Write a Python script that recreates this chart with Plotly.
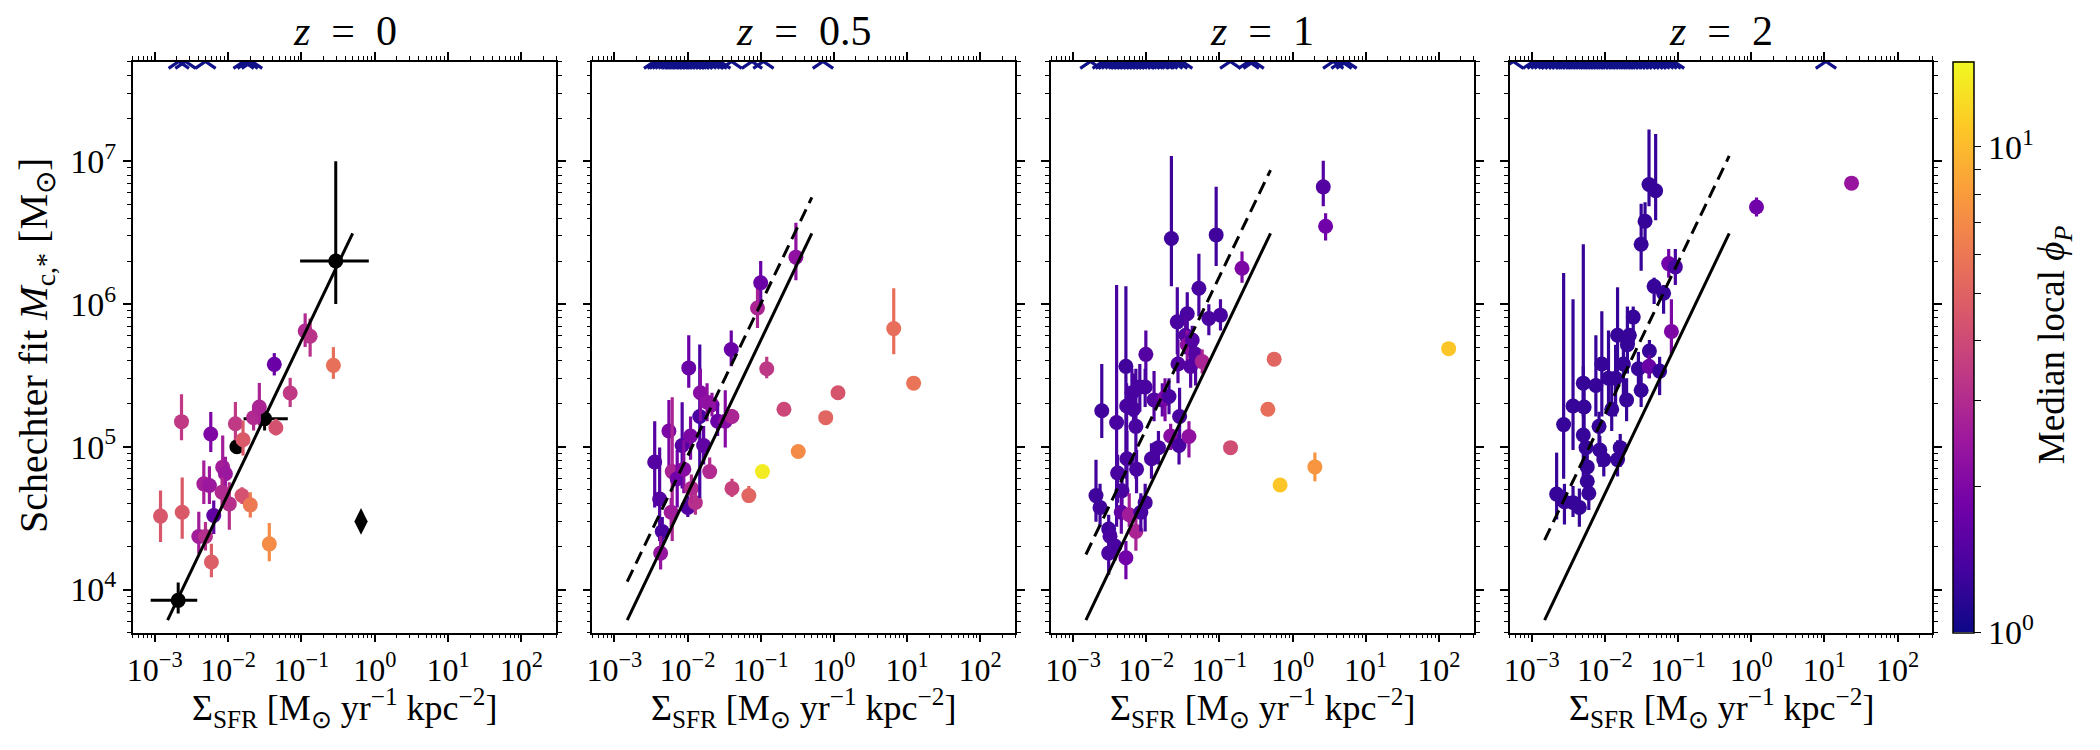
import math
import plotly.graph_objects as go
from plotly.colors import sample_colorscale

# ---------------- data ----------------
panel_titles = ["<i>z</i>\u2002=\u20020", "<i>z</i>\u2002=\u20020.5", "<i>z</i>\u2002=\u20021", "<i>z</i>\u2002=\u20022"]

# z = 0
sfr_z0 = [1.20e-3, 2.37e-3, 2.32e-3, 5.81e-3, 3.99e-3, 4.92e-3, 5.93e-3, 4.67e-3, 5.57e-3, 6.38e-3,
          8.45e-3, 9.2e-3, 8.28e-3, 0.0104, 0.0126, 0.016, 0.0155, 0.0201, 0.0223, 0.0267,
          0.0449, 0.0427, 0.0703, 0.273, 0.0365, 0.1125, 0.1315]
mc_z0 = [3.27e4, 3.48e4, 1.50e5, 1.23e5, 2.35e4, 2.35e4, 1.56e4, 5.5e4, 5.35e4, 3.3e4,
         7.2e4, 6.47e4, 4.81e4, 3.98e4, 1.45e5, 1.12e5, 4.56e4, 3.92e4, 1.6e5, 1.9e5,
         1.36e5, 3.78e5, 2.38e5, 3.72e5, 2.09e4, 6.47e5, 5.94e5]
mc_hi_z0 = [4.94e4, 6.1e4, 2.33e5, 1.75e5, 3.5e4, 2.97e4, 2.09e4, 8.0e4, 7.3e4, 4.2e4,
            1.2e5, 8.5e4, 6.1e4, 5.65e4, 2.06e5, 1.53e5, 5.2e4, 4.8e4, 1.95e5, 2.8e5,
            1.57e5, 4.53e5, 3.04e5, 4.99e5, 2.92e4, 8.6e5, 7.9e5]
mc_lo_z0 = [2.15e4, 2.27e4, 1.11e5, 9.2e4, 1.78e4, 1.88e4, 1.22e4, 3.98e4, 3.98e4, 2.45e4,
            4.4e4, 4.9e4, 3.8e4, 2.62e4, 1.11e5, 8.7e4, 3.98e4, 3.2e4, 1.3e5, 1.41e5,
            1.2e5, 3.16e5, 1.9e5, 2.99e5, 1.58e4, 5.0e5, 4.28e5]
phi_z0 = [4.5, 4.6, 3.4, 2.0, 2.6, 3.1, 4.8, 2.65, 2.45, 1.63,
          2.6, 2.45, 2.95, 3.1, 3.4, 4.6, 4.3, 6.1, 2.95, 2.8,
          4.3, 1.72, 3.4, 5.6, 7.0, 2.95, 3.2]

# z = 0 reference (black) points
ref_sfr = [2.09e-3, 0.0315, 0.294]
ref_sfr_lo = [8.8e-4, 0.0163, 0.096]
ref_sfr_hi = [3.8e-3, 0.0653, 0.83]
ref_mc = [8.4e3, 1.57e5, 2.0e6]
ref_mc_lo = [6.8e3, 1.3e5, 1.0e6]
ref_mc_hi = [1.12e4, 1.9e5, 1.0e7]
ref_extra_sfr = [0.0132]
ref_extra_mc = [1.0e5]
diamond_sfr = [0.65]
diamond_mc = [3.0e4]

# z = 0.5
sfr_z05 = [3.56e-3, 4.16e-3, 4.52e-3, 4.29e-3, 5.57e-3, 6.18e-3, 5.98e-3, 7.23e-3, 8.45e-3, 8.9e-3,
           0.0104, 0.011, 0.0101, 0.0128, 0.0113, 0.0147, 0.015, 0.0166, 0.0185, 0.0201,
           0.0216, 0.0258, 0.0328, 0.0405, 0.0396, 0.0405, 0.0689, 0.0904, 0.1, 0.1057,
           0.121, 0.208, 0.326, 0.303, 0.774, 1.14, 6.58, 12.3]
mc_z05 = [7.82e4, 4.31e4, 2.55e4, 1.8e4, 1.29e5, 6.7e4, 3.48e4, 5.97e4, 1.02e5, 6.97e4,
          3.57e5, 1.19e5, 3.76e4, 4.06e4, 5.11e4, 1.63e5, 2.39e5, 1.02e5, 2.05e5, 6.7e4,
          1.97e5, 1.51e5, 1.51e5, 1.63e5, 4.8e5, 5.11e4, 4.55e4, 9.38e5, 1.41e6, 6.7e4,
          3.52e5, 1.83e5, 9.27e4, 2.13e6, 1.6e5, 2.39e5, 6.73e5, 2.79e5]
mc_hi_z05 = [1.51e5, 9.9e4, 3.22e4, 2.37e4, 2.13e5, 2.22e5, 4.38e4, 9.5e4, 2.05e5, 1.11e5,
             6.04e5, 1.63e5, 4.55e4, 4.73e4, 6.4e4, 5.2e5, 3.52e5, 1.4e5, 2.79e5, 8.4e4,
             2.39e5, 2.05e5, 2.49e5, 1.83e5, 6.53e5, 5.97e4, 5.31e4, 1.31e6, 2.0e6, 6.7e4,
             4.27e5, 1.83e5, 9.27e4, 3.71e6, 1.6e5, 2.39e5, 1.29e6, 2.79e5]
mc_lo_z05 = [3.76e4, 2.19e4, 2.02e4, 1.38e4, 6.4e4, 2.19e4, 2.75e4, 3.76e4, 5.1e4, 4.73e4,
             2.59e5, 8.1e4, 3.22e4, 3.34e4, 4.06e4, 4.38e4, 1.51e5, 7.5e4, 1.51e5, 5.97e4,
             1.63e5, 1.19e5, 9.9e4, 1.45e5, 3.66e5, 4.45e4, 4.06e4, 6.79e5, 9.6e5, 6.7e4,
             3.02e5, 1.83e5, 9.27e4, 1.47e6, 1.6e5, 2.39e5, 4.44e5, 2.79e5]
phi_z05 = [1.5, 1.5, 1.38, 2.38, 1.97, 2.8, 2.58, 1.81, 1.5, 2.13,
           1.72, 1.97, 1.5, 3.12, 2.95, 1.38, 2.13, 1.63, 2.25, 2.95,
           2.25, 1.72, 2.13, 2.8, 1.72, 3.67, 5.1, 2.8, 1.72, 13.8,
           3.38, 3.9, 7.0, 2.25, 5.1, 4.4, 5.5, 5.8]

# z = 1
sfr_z1 = [2.06e-3, 2.34e-3, 2.47e-3, 3.07e-3, 3.2e-3, 3.07e-3, 3.74e-3, 3.94e-3, 4.07e-3, 4.67e-3,
          4.57e-3, 5.28e-3, 5.4e-3, 5.46e-3, 5.28e-3, 5.86e-3, 6.38e-3, 6.71e-3, 7.23e-3, 7.38e-3,
          7.23e-3, 8.18e-3, 8.45e-3, 9.89e-3, 9.68e-3, 9.68e-3, 0.0118, 0.0128, 0.0147, 0.0166,
          0.0181, 0.0205, 0.0221, 0.0216, 0.0266, 0.0272, 0.0281, 0.0286, 0.0364, 0.0346,
          0.0364, 0.0384, 0.0405, 0.0426, 0.0473, 0.0525, 0.0582, 0.0718, 0.0904, 0.1035,
          0.204, 0.142, 0.46, 0.561, 0.676, 2.02, 2.63, 2.83, 136.0]
mc_z1 = [4.55e4, 3.76e4, 1.79e5, 2.65e4, 2.36e4, 1.8e4, 2.02e4, 1.48e5, 6.55e4, 4.92e4,
         3.48e4, 3.66e5, 1.93e5, 8.25e4, 1.67e4, 3.34e4, 2.39e5, 1.83e5, 1.39e5, 6.97e4,
         2.55e4, 2.62e5, 3.48e4, 4.44e5, 2.62e5, 4.06e4, 8.25e4, 2.13e5, 9.86e4, 2.13e5,
         2.22e5, 2.25e5, 2.88e6, 1.19e5, 7.5e5, 3.8e5, 1.02e5, 1.63e5, 8.55e5, 6.04e5,
         5.18e5, 1.18e5, 3.66e5, 5.6e5, 4.44e5, 1.29e6, 3.95e5, 7.92e5, 3.05e6, 8.36e5,
         1.78e6, 9.86e4, 1.83e5, 4.11e5, 5.4e4, 7.23e4, 6.62e6, 3.51e6, 4.87e5]
mc_hi_z1 = [8.1e4, 5.5e4, 3.8e5, 3.34e4, 2.98e4, 2.36e4, 2.55e4, 1.36e6, 8.8e4, 6.44e4,
            4.38e4, 1.33e6, 2.79e5, 1.29e5, 2.19e4, 4.73e4, 3.52e5, 3.26e5, 3.52e5, 9.5e4,
            3.22e4, 3.8e5, 4.73e4, 6.53e5, 3.52e5, 5.5e4, 1.06e5, 3.39e5, 1.29e5, 2.79e5,
            3.02e5, 3.02e5, 1.09e7, 1.45e5, 1.31e6, 5.6e5, 1.4e5, 2.59e5, 1.21e6, 8.2e5,
            6.53e5, 1.51e5, 6.04e5, 7.05e5, 6.04e5, 2.25e6, 4.8e5, 9.98e5, 6.62e6, 1.08e6,
            2.33e6, 9.86e4, 1.83e5, 4.11e5, 5.4e4, 9.1e4, 1.01e7, 4.33e6, 4.87e5]
mc_lo_z1 = [2.98e4, 2.75e4, 1.15e5, 2.1e4, 1.73e4, 1.27e4, 1.6e4, 2.75e4, 4.06e4, 3.76e4,
            2.46e4, 5.97e4, 1.29e5, 5.1e4, 1.18e4, 2.75e4, 1.63e5, 1.29e5, 5.97e4, 4.73e4,
            1.87e4, 1.76e5, 2.55e4, 2.79e5, 1.9e5, 2.55e4, 5.97e4, 1.51e5, 7.5e4, 1.63e5,
            1.51e5, 1.69e5, 1.33e6, 9.5e4, 4.44e5, 2.79e5, 7.5e4, 1.02e5, 6.04e5, 4.44e5,
            3.8e5, 8.4e4, 2.59e5, 3.8e5, 2.69e5, 8.2e5, 3.26e5, 6.04e5, 1.85e6, 6.53e5,
            1.41e6, 9.86e4, 1.83e5, 4.11e5, 5.4e4, 5.74e4, 4.85e6, 2.79e6, 4.87e5]
phi_z1 = [1.31, 1.31, 1.31, 1.31, 1.38, 1.38, 1.38, 1.38, 1.38, 1.38,
          1.63, 1.31, 1.38, 1.38, 1.81, 2.58, 1.38, 1.38, 1.38, 1.38,
          2.8, 1.38, 1.38, 1.5, 1.38, 1.38, 1.38, 1.5, 1.38, 1.63,
          1.97, 1.38, 1.31, 2.13, 1.38, 1.5, 1.38, 1.38, 1.38, 1.5,
          2.25, 2.25, 1.5, 1.5, 1.5, 1.38, 2.8, 1.38, 1.31, 1.38,
          1.97, 4.1, 5.5, 5.1, 10.8, 7.6, 1.5, 1.81, 10.8]

# z = 2
sfr_z2 = [2.19e-3, 2.73e-3, 2.8e-3, 3.67e-3, 3.67e-3, 4.48e-3, 5.07e-3, 5.2e-3, 5.07e-3, 5.53e-3,
          5.74e-3, 5.74e-3, 6.03e-3, 7.53e-3, 8.32e-3, 8.53e-3, 9.66e-3, 9.08e-3, 0.0112, 0.0124,
          0.014, 0.0149, 0.0162, 0.0149, 0.0179, 0.0198, 0.0203, 0.0244, 0.0216, 0.0287,
          0.0313, 0.0313, 0.0354, 0.0401, 0.0494, 0.0406, 0.0401, 0.0471, 0.056, 0.0634,
          0.0745, 0.0918, 0.0811, 1.18, 23.5]
mc_z2 = [4.66e4, 1.43e5, 4.12e4, 1.93e5, 4.06e4, 3.76e4, 2.79e5, 1.9e5, 1.21e5, 9.86e4,
         7.23e4, 5.74e4, 4.73e4, 2.69e5, 1.39e5, 9.5e4, 8.13e4, 3.8e5, 3.02e5, 1.83e5,
         3.02e5, 8.13e4, 9.86e4, 6.04e5, 3.8e5, 2.13e5, 5.18e5, 8.1e5, 6.04e5, 3.52e5,
         2.49e5, 2.62e6, 3.8e6, 6.88e6, 6.22e6, 4.69e5, 3.66e5, 1.33e6, 3.39e5, 1.19e6,
         1.92e6, 1.82e6, 6.43e5, 4.78e6, 7.03e6]
mc_hi_z2 = [9.1e4, 1.65e6, 5.5e4, 1.08e6, 5.31e4, 5.1e4, 3.66e5, 2.79e5, 2.62e6, 1.29e5,
            9.5e4, 7.5e4, 6.2e4, 6.04e5, 1.76e5, 1.19e5, 1.02e5, 8.9e5, 6.53e5, 2.79e5,
            5.18e5, 1.11e5, 1.23e5, 1.31e6, 6.04e5, 3.02e5, 9.6e5, 9.6e5, 6.04e5, 4.62e5,
            3.26e5, 5.05e6, 5.17e6, 1.67e7, 1.55e7, 5.6e5, 4.4e5, 1.53e6, 4.27e5, 1.36e6,
            2.43e6, 2.43e6, 1.08e6, 5.58e6, 7.03e6]
mc_lo_z2 = [3.1e4, 5.97e4, 2.86e4, 9.5e4, 3.22e4, 2.75e4, 1.63e5, 1.29e5, 5.97e4, 7.5e4,
            5.5e4, 4.38e4, 3.61e4, 1.63e5, 1.02e5, 7.23e4, 6.2e4, 1.63e5, 1.9e5, 1.29e5,
            1.63e5, 6.2e4, 7.23e4, 2.79e5, 2.2e5, 1.51e5, 3.26e5, 5.18e5, 6.04e5, 2.59e5,
            1.9e5, 1.71e6, 2.83e6, 4.85e6, 3.86e6, 3.02e5, 3.02e5, 1.0e6, 2.3e5, 8.55e5,
            1.53e6, 1.36e6, 4.44e5, 4.1e6, 7.03e6]
phi_z2 = [1.25, 1.25, 1.25, 1.25, 1.25, 1.25, 1.25, 1.25, 1.25, 1.25,
          1.25, 1.25, 1.25, 1.25, 1.25, 1.25, 1.25, 1.25, 1.25, 1.25,
          1.25, 1.25, 1.25, 1.25, 1.25, 1.25, 1.25, 1.25, 1.25, 1.25,
          1.25, 1.25, 1.25, 1.25, 1.25, 1.25, 1.72, 1.25, 1.25, 1.25,
          1.81, 1.38, 1.97, 1.81, 2.38]

# galaxies above the plotted range (drawn as carets at the top edge)
lim_sfr_z0 = [2.13e-3, 2.63e-3, 4.92e-3, 0.0163, 0.0185, 0.0212]
lim_sfr_z05 = [0.0035, 0.0039, 0.0042, 0.0046, 0.005, 0.0055, 0.006, 0.0066, 0.0072, 0.0078,
               0.0085, 0.0093, 0.0101, 0.011, 0.012, 0.0132, 0.0145, 0.016, 0.018, 0.02,
               0.022, 0.025, 0.028, 0.04, 0.076, 0.109, 0.71]
lim_sfr_z1 = [1.73e-3, 2.55e-3, 2.8e-3, 3.1e-3, 3.4e-3, 3.8e-3, 4.2e-3, 4.6e-3, 5.1e-3, 5.6e-3,
              6.2e-3, 6.8e-3, 7.5e-3, 8.3e-3, 9.1e-3, 0.0101, 0.0111, 0.0122, 0.0145, 0.0167,
              0.0195, 0.0228, 0.0265, 0.031, 0.141, 0.252, 0.294, 3.6, 4.67, 5.46]
lim_sfr_z2 = [5.6e-4, 1.05e-3, 1.2e-3, 1.35e-3, 1.5e-3, 1.7e-3, 1.9e-3, 2.1e-3, 2.35e-3, 2.6e-3,
              2.9e-3, 3.2e-3, 3.6e-3, 4.0e-3, 4.4e-3, 4.9e-3, 5.4e-3, 6.0e-3, 6.7e-3, 7.4e-3,
              8.2e-3, 9.1e-3, 0.0101, 0.0112, 0.0125, 0.014, 0.0155, 0.0172, 0.019, 0.021,
              0.0235, 0.026, 0.029, 0.032, 0.036, 0.04, 0.045, 0.05, 0.056, 0.063,
              0.07, 0.079, 0.088, 10.5]

# fit lines
line_sfr = [1.5e-3, 0.5]
solid_mc = [6.1e3, 3.13e6]
dashed_mc = [None, [1.135e4, 5.58e6], [1.76e4, 8.67e6], [2.22e4, 1.09e7]]

x_ticks = [1e-3, 1e-2, 1e-1, 1e0, 1e1, 1e2]
x_tick_text = ["10<sup>−3</sup>", "10<sup>−2</sup>", "10<sup>−1</sup>", "10<sup>0</sup>",
               "10<sup>1</sup>", "10<sup>2</sup>"]
y_ticks = [1e4, 1e5, 1e6, 1e7]
y_tick_text = ["10<sup>4</sup>", "10<sup>5</sup>", "10<sup>6</sup>", "10<sup>7</sup>"]
x_range = [5e-4, 3e2]
y_range = [5e3, 5e7]
phi_range = [1.0, 15.0]

# ---------------- figure ----------------
W, H = 2100, 750
FONT = "Liberation Serif, Times New Roman, serif"
panel_px = [(127, 552), (588, 1012), (1048, 1472), (1508, 1932)]
y_dom = [1 - 632.5 / H, 1 - 61.5 / H]
MS = 15
TICK_FS = 32

lmin, lmax = math.log10(phi_range[0]), math.log10(phi_range[1])


def phi_color(p):
    t = (math.log10(p) - lmin) / (lmax - lmin)
    t = min(max(t, 0.0), 1.0)
    return sample_colorscale("Plasma", [t])[0]


fig = go.Figure()
minor_x = [m * 10.0 ** e for e in range(-4, 3) for m in range(2, 10)]
minor_y = [m * 10.0 ** e for e in range(3, 8) for m in range(2, 10)]

panels = [
    (sfr_z0, mc_z0, mc_lo_z0, mc_hi_z0, phi_z0, lim_sfr_z0),
    (sfr_z05, mc_z05, mc_lo_z05, mc_hi_z05, phi_z05, lim_sfr_z05),
    (sfr_z1, mc_z1, mc_lo_z1, mc_hi_z1, phi_z1, lim_sfr_z1),
    (sfr_z2, mc_z2, mc_lo_z2, mc_hi_z2, phi_z2, lim_sfr_z2),
]

for i, (sx, my, lo, hi, ph, lims) in enumerate(panels):
    xa = "x" if i == 0 else f"x{i+1}"
    ya = "y" if i == 0 else f"y{i+1}"
    if i == 0:
        fig.add_trace(go.Scatter(
            x=ref_extra_sfr, y=ref_extra_mc, mode="markers", xaxis=xa, yaxis=ya,
            marker=dict(size=MS, color="black"), showlegend=False, hoverinfo="skip"))
        fig.add_trace(go.Scatter(
            x=ref_sfr, y=ref_mc, mode="markers", xaxis=xa, yaxis=ya,
            marker=dict(size=MS, color="black"),
            error_x=dict(type="data", symmetric=False,
                         array=[h - v for h, v in zip(ref_sfr_hi, ref_sfr)],
                         arrayminus=[v - l for l, v in zip(ref_sfr_lo, ref_sfr)],
                         color="black", thickness=3, width=0),
            error_y=dict(type="data", symmetric=False,
                         array=[h - v for h, v in zip(ref_mc_hi, ref_mc)],
                         arrayminus=[v - l for l, v in zip(ref_mc_lo, ref_mc)],
                         color="black", thickness=3, width=0),
            showlegend=False, hoverinfo="skip"))
        fig.add_trace(go.Scatter(
            x=diamond_sfr, y=diamond_mc, mode="markers", xaxis=xa, yaxis=ya,
            marker=dict(size=19, color="black", symbol="diamond-tall"),
            showlegend=False, hoverinfo="skip"))
    for x, y, l, h, p in zip(sx, my, lo, hi, ph):
        c = phi_color(p)
        fig.add_trace(go.Scatter(
            x=[x], y=[y], mode="markers", xaxis=xa, yaxis=ya,
            marker=dict(size=MS, color=c),
            error_y=dict(type="data", symmetric=False, array=[h - y], arrayminus=[y - l],
                         color=c, thickness=3.2, width=0),
            showlegend=False, hoverinfo="skip"))
    fig.add_trace(go.Scatter(
        x=lims, y=[y_range[1]] * len(lims), mode="markers", xaxis=xa, yaxis=ya,
        marker=dict(symbol="y-up", size=17, color="#11118a",
                    line=dict(color="#11118a", width=3.2)),
        showlegend=False, hoverinfo="skip"))
    fig.add_trace(go.Scatter(
        x=line_sfr, y=solid_mc, mode="lines", xaxis=xa, yaxis=ya,
        line=dict(color="black", width=3), showlegend=False, hoverinfo="skip"))
    if dashed_mc[i] is not None:
        fig.add_trace(go.Scatter(
            x=line_sfr, y=dashed_mc[i], mode="lines", xaxis=xa, yaxis=ya,
            line=dict(color="black", width=3, dash="13px,7px"),
            showlegend=False, hoverinfo="skip"))

cb_ticks = [math.log10(v) for v in [1, 2, 3, 4, 5, 6, 7, 8, 9, 10]]
cb_text = ["10<sup>0</sup>", "", "", "", "", "", "", "", "", "10<sup>1</sup>"]
fig.add_trace(go.Scatter(
    x=[None], y=[None], mode="markers", xaxis="x4", yaxis="y4",
    marker=dict(color=[lmin], colorscale="Plasma", cmin=lmin, cmax=lmax, showscale=True,
                colorbar=dict(
                    x=1952.5 / W, xanchor="left", xpad=0, ypad=0,
                    y=1 - 61.5 / H, yanchor="top", len=(632.5 - 61.5) / H, lenmode="fraction",
                    thickness=21, outlinewidth=1.5, outlinecolor="black",
                    tickmode="array", tickvals=cb_ticks, ticktext=cb_text,
                    ticks="outside", ticklen=7, tickwidth=1.2, tickcolor="black",
                    tickfont=dict(family=FONT, size=34, color="black"))),
    showlegend=False, hoverinfo="skip"))

layout = dict(
    width=W, height=H, margin=dict(l=0, r=0, t=0, b=0),
    paper_bgcolor="white", plot_bgcolor="white",
    font=dict(family=FONT, size=TICK_FS, color="black"),
    showlegend=False,
)
annotations = []
for i, (a, b) in enumerate(panel_px):
    xk = "xaxis" if i == 0 else f"xaxis{i+1}"
    yk = "yaxis" if i == 0 else f"yaxis{i+1}"
    layout[xk] = dict(
        type="log", range=[math.log10(x_range[0]), math.log10(x_range[1])],
        domain=[a / W, b / W], anchor="y" if i == 0 else f"y{i+1}",
        showgrid=False, zeroline=False, showline=True, linecolor="black", linewidth=1.5,
        mirror="ticks", ticks="outside", ticklen=8, tickwidth=1.5, tickcolor="black",
        tickmode="array", tickvals=x_ticks, ticktext=x_tick_text,
        tickfont=dict(family=FONT, size=TICK_FS, color="black"),
        minor=dict(ticks="outside", ticklen=4, tickwidth=1, tickcolor="black",
                   tickmode="array", tickvals=minor_x, showgrid=False),
    )
    layout[yk] = dict(
        type="log", range=[math.log10(y_range[0]), math.log10(y_range[1])],
        domain=y_dom, anchor="x" if i == 0 else f"x{i+1}",
        showgrid=False, zeroline=False, showline=True, linecolor="black", linewidth=1.5,
        mirror="ticks", ticks="outside", ticklen=8, tickwidth=1.5, tickcolor="black",
        tickmode="array", tickvals=y_ticks, ticktext=y_tick_text,
        showticklabels=(i == 0),
        tickfont=dict(family=FONT, size=TICK_FS + 2, color="black"),
        minor=dict(ticks="outside", ticklen=4, tickwidth=1, tickcolor="black",
                   tickmode="array", tickvals=minor_y, showgrid=False),
    )
    cx = (a + b) / 2 / W
    annotations.append(dict(text=panel_titles[i], x=cx, y=1 - 31 / H, xref="paper", yref="paper",
                            xanchor="center", yanchor="middle", showarrow=False,
                            font=dict(family=FONT, size=42, color="black")))
    annotations.append(dict(text="Σ<sub>SFR</sub> [M<sub>⊙</sub> yr<sup>−1</sup> kpc<sup>−2</sup>]",
                            x=cx, y=1 - 708 / H, xref="paper", yref="paper",
                            xanchor="center", yanchor="middle", showarrow=False,
                            font=dict(family=FONT, size=36, color="black")))

annotations.append(dict(text="Schechter fit <i>M</i><sub>c,*</sub> [M<sub>⊙</sub>]",
                        x=30 / W, y=1 - 345 / H, xref="paper", yref="paper",
                        xanchor="center", yanchor="middle", textangle=-90, showarrow=False,
                        font=dict(family=FONT, size=40, color="black")))
annotations.append(dict(text="Median local <i>ϕ</i><sub><i>P</i></sub>",
                        x=2054 / W, y=1 - 345 / H, xref="paper", yref="paper",
                        xanchor="center", yanchor="middle", textangle=-90, showarrow=False,
                        font=dict(family=FONT, size=37, color="black")))
layout["annotations"] = annotations
fig.update_layout(**layout)

fig.write_html("out.html")
